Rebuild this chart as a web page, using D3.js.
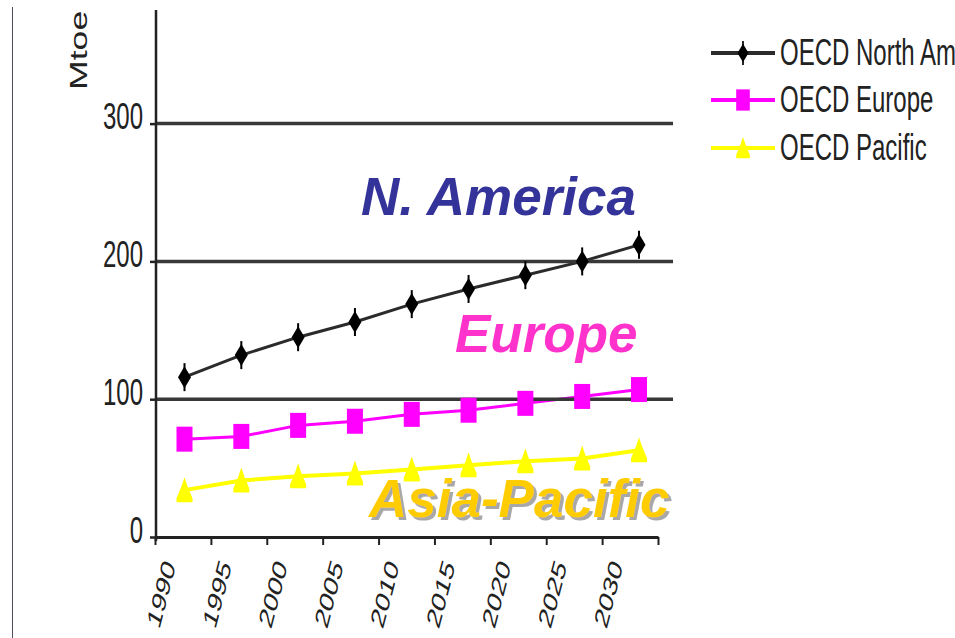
<!DOCTYPE html>
<html>
<head>
<meta charset="utf-8">
<script src="https://cdn.jsdelivr.net/npm/d3@7"></script>
<style>
  html, body { margin: 0; padding: 0; background: #fff; }
  svg { display: block; }
  text { font-family: "Liberation Sans", Arial, sans-serif; }
</style>
</head>
<body>
<svg id="chart" width="955" height="638"></svg>
<script>
// Primary oil demand by OECD region (Mtoe)
const years = ["1990", "1995", "2000", "2005", "2010", "2015", "2020", "2025", "2030"];
const northAmerica = [116, 132, 145, 156, 169, 180, 190, 200, 212];
const europe = [71, 73, 81, 84, 89, 92, 97, 102, 107];
const pacific = [34, 41, 44, 46, 49, 52, 55, 57, 63];
const yTicks = [0, 100, 200, 300];
const seriesNames = ["OECD North America", "OECD Europe", "OECD Pacific"];
const regionLabels = ["N. America", "Europe", "Asia-Pacific"];
const unitLabel = "Mtoe";

const svg = d3.select("#chart");
const STRETCH = 1.55; // small type is drawn tall and narrow

// Drop shadow used by the Asia-Pacific call-out
const defs = svg.append("defs");
defs.append("filter").attr("id", "shadow")
  .attr("x", "-5%").attr("y", "-20%").attr("width", "115%").attr("height", "150%")
  .append("feDropShadow")
  .attr("dx", 3).attr("dy", 3).attr("stdDeviation", 0.4)
  .attr("flood-color", "#a8a8a8").attr("flood-opacity", 1);

// Scales
const y = d3.scaleLinear().domain([0, 300]).range([537, 123.6]);
const xPt = d3.scalePoint().domain(years).range([184.5, 639]);
const xTick = d3.scaleLinear().domain([0, years.length]).range([155, 658]);
const axisX = 156, gridRight = 673, axisTop = 10;

// Thin border line at the left edge
svg.append("line")
  .attr("x1", 12.5).attr("x2", 12.5).attr("y1", 7).attr("y2", 638)
  .attr("stroke", "#4b4d63").attr("stroke-width", 1);

// Series definitions
const series = [
  { name: seriesNames[0], values: northAmerica, line: "#2b2b2b", fill: "#000", width: 3, marker: "diamond" },
  { name: seriesNames[1], values: europe, line: "#ff00ff", fill: "#ff00ff", width: 3, marker: "rect" },
  { name: seriesNames[2], values: pacific, line: "#ffff00", fill: "#ffff00", width: 4, marker: "triangle" }
];

function drawMarker(g, kind, color) {
  if (kind === "diamond") {
    g.append("line").attr("x1", 0).attr("x2", 0).attr("y1", -14).attr("y2", 14)
      .attr("stroke", color).attr("stroke-width", 2);
    g.append("path").attr("d", "M0,-11L6.5,0L0,11L-6.5,0Z").attr("fill", color);
  } else if (kind === "rect") {
    g.append("rect").attr("x", -8).attr("y", -12.5).attr("width", 16).attr("height", 25)
      .attr("fill", color);
  } else {
    g.append("path").attr("d", "M0,-13L3,-4L8,8L8,12L-8,12L-8,8L-3,-4Z").attr("fill", color);
  }
}

// Series lines
const lineGen = d3.line().x((d, i) => xPt(years[i])).y(d => y(d));
series.forEach(s => {
  svg.append("path").datum(s.values)
    .attr("d", lineGen)
    .attr("fill", "none")
    .attr("stroke", s.line)
    .attr("stroke-width", s.width);
});

// Horizontal gridlines
svg.append("g").selectAll("line")
  .data(yTicks.filter(v => v > 0))
  .join("line")
  .attr("x1", axisX).attr("x2", gridRight)
  .attr("y1", d => y(d)).attr("y2", d => y(d))
  .attr("stroke", "#383838").attr("stroke-width", 3.5);

// Markers
series.forEach(s => {
  svg.append("g").selectAll("g")
    .data(s.values)
    .join("g")
    .attr("transform", (d, i) => `translate(${xPt(years[i])},${y(d)})`)
    .each(function () { drawMarker(d3.select(this), s.marker, s.fill); });
});

// Y axis
svg.append("line")
  .attr("x1", axisX).attr("x2", axisX).attr("y1", y(0) + 4).attr("y2", axisTop)
  .attr("stroke", "#222").attr("stroke-width", 2.5);
const yAxis = svg.append("g")
  .attr("transform", `translate(${axisX},0)`)
  .call(d3.axisLeft(y).tickValues(yTicks).tickSize(6).tickFormat(d3.format("d")));
yAxis.select(".domain").remove();
yAxis.selectAll(".tick line").attr("stroke", "#222").attr("stroke-width", 2.5);
yAxis.selectAll(".tick text")
  .attr("x", null).attr("dy", null)
  .attr("transform", `translate(-13,5) scale(1,${STRETCH})`)
  .attr("text-anchor", "end")
  .attr("font-size", 24)
  .attr("fill", "#222");

// X axis
const xAxis = svg.append("g")
  .attr("transform", `translate(0,${y(0)})`)
  .call(d3.axisBottom(xTick).tickValues(d3.range(years.length + 1)).tickSize(8).tickSizeOuter(0).tickFormat(""));
xAxis.select(".domain").attr("stroke", "#222").attr("stroke-width", 3);
xAxis.selectAll(".tick line").attr("stroke", "#222").attr("stroke-width", 2);

// Rotated year labels
svg.append("g").selectAll("text")
  .data(years)
  .join("text")
  .attr("transform", (d, i) => {
    const cx = (xTick(i) + xTick(i + 1)) / 2 - 7;
    return `translate(${cx},566) scale(1,${STRETCH}) rotate(-68)`;
  })
  .attr("text-anchor", "end")
  .attr("font-size", 20)
  .attr("fill", "#222")
  .text(d => d);

// Unit label
svg.append("text")
  .attr("transform", `translate(87,90) scale(1,${STRETCH}) rotate(-90)`)
  .attr("font-size", 23)
  .attr("fill", "#222")
  .text(unitLabel);

// Legend
const legend = svg.append("g");
const legendRows = [53, 100, 148];
series.forEach((s, i) => {
  const g = legend.append("g").attr("transform", `translate(0,${legendRows[i]})`);
  g.append("line").attr("x1", 711).attr("x2", 775).attr("y1", 0).attr("y2", 0)
    .attr("stroke", s.line).attr("stroke-width", 4);
  const m = g.append("g").attr("transform", "translate(743,0) scale(0.85)");
  drawMarker(m, s.marker, s.fill);
  g.append("text")
    .attr("transform", `translate(780,12) scale(1,${STRETCH})`)
    .attr("font-size", 24)
    .attr("fill", "#222")
    .text(s.name);
});

// Region call-outs
const callouts = [
  { text: regionLabels[0], x: 361, y: 215, color: "#333399" },
  { text: regionLabels[1], x: 455, y: 352, color: "#ff33cc" },
  { text: regionLabels[2], x: 369, y: 517, color: "#ffcc00", shadow: true }
];
callouts.forEach(c => {
  const t = svg.append("text")
    .attr("x", c.x).attr("y", c.y)
    .attr("font-size", 53).attr("font-weight", "bold").attr("font-style", "italic")
    .attr("fill", c.color)
    .text(c.text);
  if (c.shadow) t.attr("filter", "url(#shadow)");
});
</script>
</body>
</html>
